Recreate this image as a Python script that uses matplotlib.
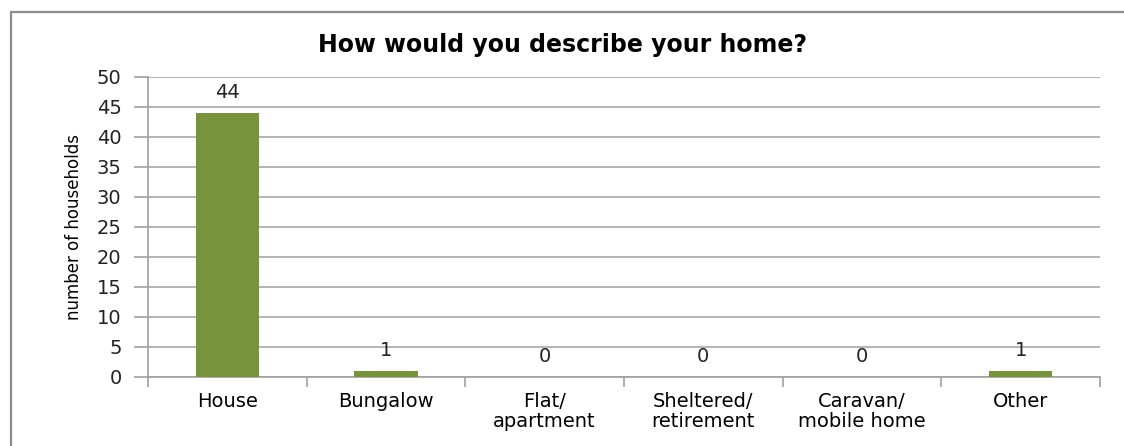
import matplotlib.pyplot as plt
from matplotlib.patches import Rectangle

# Survey answers
categories = ['House', 'Bungalow', 'Flat/\napartment', 'Sheltered/\nretirement',
              'Caravan/\nmobile home', 'Other']
households = [44, 1, 0, 0, 0, 1]
y_ticks = [0, 5, 10, 15, 20, 25, 30, 35, 40, 45, 50]

bar_color = '#77933C'
grid_color = '#a0a0a0'
text_font = 'DejaVu Sans'

fig = plt.figure(figsize=(11.24, 4.46), dpi=100)

# outer chart frame, clipped on the right and bottom
fig.patches.append(Rectangle((11 / 1124, -0.1), 1.2, 1 - 12 / 446 + 0.1,
                             transform=fig.transFigure, fill=False,
                             edgecolor='#8c8c8c', linewidth=1.6))

ax = fig.add_axes([148 / 1124, 1 - 377 / 446, (1100 - 148) / 1124, 300 / 446])

x = range(len(categories))
ax.bar(x, households, width=0.4, color=bar_color, zorder=3)

for xi, v in zip(x, households):
    ax.text(xi, v + 1.8, str(v), ha='center', va='bottom',
            fontsize=14, family=text_font, color='#222222')

ax.set_xlim(-0.5, len(categories) - 0.5)
ax.set_ylim(0, 50)
ax.set_yticks(y_ticks)
ax.set_yticklabels([str(t) for t in y_ticks], family=text_font, fontsize=14)
ax.set_xticks([i + 0.5 for i in range(-1, len(categories))])
ax.set_xticklabels([])
ax.set_xticks(list(x), minor=True)
ax.set_xticklabels(categories, minor=True, family=text_font, fontsize=14,
                   linespacing=1.05)
ax.tick_params(axis='x', which='minor', length=0, pad=11)
ax.tick_params(axis='x', which='major', length=7, color=grid_color, width=1.2)
ax.tick_params(axis='y', length=10, width=1.2, pad=9, colors='#222222')
ax.tick_params(axis='y', color=grid_color)

ax.grid(axis='y', color=grid_color, linewidth=1.1, zorder=0)
for side in ['top', 'right']:
    ax.spines[side].set_visible(False)
for side in ['left', 'bottom']:
    ax.spines[side].set_color(grid_color)
    ax.spines[side].set_linewidth(1.2)

ax.set_ylabel('number of households', family='Liberation Sans Narrow',
              fontsize=12, labelpad=10)
fig.text(0.5, 1 - 45 / 446, 'How would you describe your home?',
         ha='center', va='center', fontsize=17, fontweight='bold',
         family=text_font)

fig.savefig('out.png', dpi=100)
